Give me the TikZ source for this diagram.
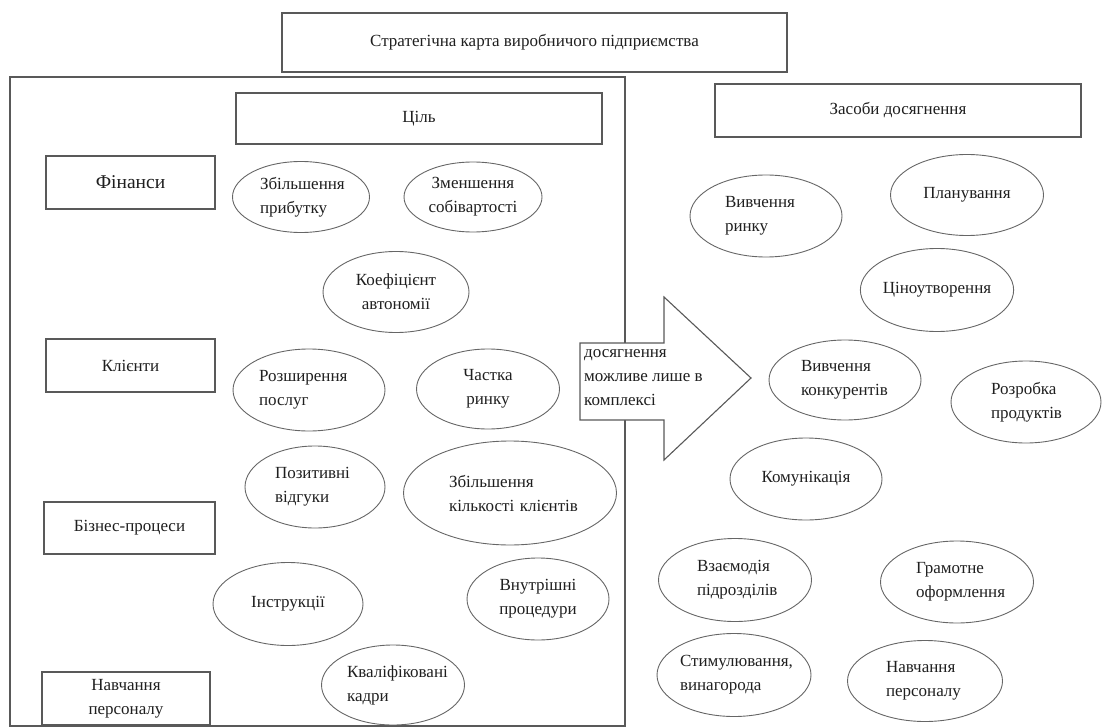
\documentclass[tikz,border=0pt]{standalone}
\usepackage{fontspec}
\setmainfont{Liberation Serif}
\usetikzlibrary{shapes.geometric}
\tikzset{
  txt/.style={text=black!88, font=\fontsize{17}{24}\selectfont},
  box/.style={txt, draw=black!65, line width=1.1pt, rectangle, inner sep=0pt, fill=white},
  oval/.style={txt, draw=black!60, line width=0.9pt, ellipse, inner sep=0pt, align=left},
  ovalc/.style={oval, align=center},
  arrowshape/.style={draw=black!65, line width=1.1pt, fill=white, line join=miter},
}
\begin{document}
\begin{tikzpicture}[x=1pt, y=-1pt]
\useasboundingbox (0,0) rectangle (1102,727);
% panels and headers
\node[box, fill=none, minimum width=615, minimum height=649] (panel) at (317.5,401.5) {};
\node[box, minimum width=505, minimum height=59] (title) at (534.5,42.5) {Стратегічна карта виробничого підприємства};
\node[box, minimum width=366, minimum height=51] (goal) at (419,118.5) {Ціль};
\node[box, minimum width=366, minimum height=53] (means) at (898,110.5) {Засоби досягнення};
% perspectives
\node[box, minimum width=169, minimum height=53, font=\fontsize{19.5}{24}\selectfont] (fin) at (130.5,182.5) {Фінанси};
\node[box, minimum width=169, minimum height=53] (cli) at (130.5,365.5) {Клієнти};
\node[box, minimum width=171, minimum height=52] (bus) at (129.5,528) {Бізнес-процеси};
\node[box, minimum width=168, minimum height=53, align=center] (edu) at (126,698.5) {Навчання\\персоналу};
% goals
\node[oval, minimum width=137, minimum height=71, text width=82] (e1) at (301,197) {Збільшення\\прибутку};
\node[ovalc, minimum width=138, minimum height=70] (e2) at (473,197) {Зменшення\\собівартості};
\node[ovalc, minimum width=146, minimum height=81] (e3) at (396,292) {Коефіцієнт\\автономії};
\node[oval, minimum width=152, minimum height=82, text width=100] (e4) at (309,390) {Розширення\\послуг};
\node[ovalc, minimum width=143, minimum height=80] (e5) at (488,389) {Частка\\ринку};
\node[oval, minimum width=140, minimum height=82, text width=80] (e6) at (315,487) {Позитивні\\відгуки};
\node[oval, minimum width=213, minimum height=104, text width=122] (e7) at (510,493) {Збільшення\\кількості~клієнтів};
\node[ovalc, minimum width=150, minimum height=83] (e8) at (288,604) {Інструкції};
\node[ovalc, minimum width=142, minimum height=82] (e9) at (538,599) {Внутрішні\\процедури};
\node[oval, minimum width=143, minimum height=80, text width=92] (e10) at (393,685) {Кваліфіковані\\кадри};
% arrow
\draw[arrowshape] (580,343) -- (664,343) -- (664,297) -- (751,378) -- (664,460) -- (664,420) -- (580,420) -- cycle;
\node[txt, anchor=west, align=left, inner sep=0pt] (arrowtext) at (584,378) {досягнення\\можливе лише в\\комплексі};
% means
\node[oval, minimum width=152, minimum height=82, text width=82] (r1) at (766,216) {Вивчення\\ринку};
\node[ovalc, minimum width=153, minimum height=81] (r2) at (967,195) {Планування};
\node[ovalc, minimum width=153, minimum height=83] (r3) at (937,290) {Ціноутворення};
\node[oval, minimum width=152, minimum height=80, text width=88] (r4) at (845,380) {Вивчення\\конкурентів};
\node[oval, minimum width=150, minimum height=82, text width=70] (r5) at (1026,402) {Розробка\\продуктів};
\node[ovalc, minimum width=152, minimum height=82] (r6) at (806,479) {Комунікація};
\node[oval, minimum width=153, minimum height=83, text width=76] (r7) at (735,580) {Взаємодія\\підрозділів};
\node[oval, minimum width=153, minimum height=82, text width=82] (r8) at (957,582) {Грамотне\\оформлення};
\node[oval, minimum width=154, minimum height=83, text width=108] (r9) at (734,675) {Стимулювання,\\винагорода};
\node[oval, minimum width=155, minimum height=81, text width=78] (r10) at (925,681) {Навчання\\персоналу};
\end{tikzpicture}
\end{document}
